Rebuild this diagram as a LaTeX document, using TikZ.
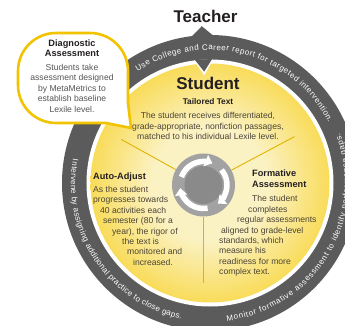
\documentclass[tikz,border=0pt]{standalone}
\usepackage{fontspec}
\setmainfont{Liberation Sans}
\usetikzlibrary{positioning,arrows.meta,decorations.text}
\definecolor{ringgray}{HTML}{5B5B5B}
\definecolor{yolk}{HTML}{F7C900}
\definecolor{yolkpale}{HTML}{FBF2C4}
\definecolor{rim}{HTML}{F2C300}
\definecolor{ink}{HTML}{231F20}
\definecolor{bodyink}{HTML}{4A4436}
\definecolor{bubbleink}{HTML}{555555}
\definecolor{hubout}{HTML}{A2A2A2}
\definecolor{hubin}{HTML}{8A8A8A}
\definecolor{splitline}{HTML}{E0B400}
\newcommand\ringfont{\fontsize{8}{9}\selectfont}
\pgfdeclareradialshading{yolkglow}{\pgfpoint{0bp}{0bp}}{color(0bp)=(yolkpale); color(12bp)=(yolkpale); color(36bp)=(yolk); color(50bp)=(yolk)}
\tikzset{
	>={Triangle[width=12pt,length=7pt]}
}

\begin{document}
\begin{tikzpicture}[
x = 1pt, y = 1pt,
every node/.style = {
	inner sep = 0pt,
	text = bodyink,
	font = \fontsize{8.6}{10.4}\selectfont
},
head/.style = {
	text = ink,
	font = \fontsize{17}{20}\selectfont\bfseries
},
heading/.style = {
	text = ink,
	align = left,
	font = \fontsize{9.2}{11}\selectfont\bfseries
},
para/.style = {
	align = left
},
ringtext/.style = {
	decorate,
	decoration = {text along path, text = {|\ringfont|#1}, text color = white, text align = fit to path}
},
divider/.style = {
	draw = splitline, line width = 0.9pt
},
swirl/.style = {
	draw = white, line width = 5.5pt, ->
},
bubble/.style = {
	fill = white, draw = rim, line width = 2.6pt
}
]

% frame
\useasboundingbox (-210,-143) rectangle (135,183);
\clip (-210,-143) rectangle (135,183);

% teacher ring
\fill[ringgray] (0,0) circle (148);
\fill[white] (0,0) circle (123.5);
\fill[ringgray] (88:146) -- (93:157) -- (98:146) -- cycle;

% student disc
\shade[shading=yolkglow] (0,0) circle (119.5);
\fill[white] (88.5:123.5) -- (93:108) -- (97.5:123.5) -- cycle;
\fill[ringgray] (89:124) -- (93:111.5) -- (97:124) -- cycle;

% hub with cycle arrows
\node[circle, fill=hubout, minimum size=63pt] (hub) at (-6.5,-2) {};
\fill[hubin] (hub.center) circle (19);
\draw[swirl] ([shift={(160:23.5)}]hub.center) arc[start angle=160, end angle=68, radius=23.5];
\draw[swirl] ([shift={(40:23.5)}]hub.center) arc[start angle=40, end angle=-52, radius=23.5];
\draw[swirl] ([shift={(-80:23.5)}]hub.center) arc[start angle=-80, end angle=-172, radius=23.5];

\path (hub.center) ++(151:94) coordinate (splitL);
\path (hub.center) ++(28:103) coordinate (splitR);
\path (hub.center) ++(270:98) coordinate (splitB);
\draw[divider] (hub.151) -- (splitL);
\draw[divider] (hub.28) -- (splitR);
\draw[divider] (hub.270) -- (splitB);

% ring texts
\path[ringtext={Use College and Career report for targeted intervention.}] (123:133) arc[start angle=123, end angle=27, radius=133];
\path[ringtext={Intervene by assigning additional practice to close gaps.}] (170:139) arc[start angle=170, end angle=258, radius=139];
\path[ringtext={Monitor formative assessment to identify performance gaps.}] (-83:139) arc[start angle=-83, end angle=21, radius=139];

% diagnostic bubble
\draw[bubble] (-154,150) -- (-120,150) arc[start angle=90, end angle=0, radius=38] -- (-82,80) -- (-79,55) -- (-104,60) -- (-154,60) arc[start angle=270, end angle=180, radius=38] -- (-192,112) arc[start angle=180, end angle=90, radius=38] -- cycle;

\node[head, anchor=base] (teacher) at (-4.5,160) {Teacher};
\node[head, anchor=base] (student) at (-2,93) {Student};
\node[heading, font=\fontsize{8.3}{10}\selectfont\bfseries, below=8pt of student] (tailored) {Tailored Text};
\node[para, align=center, below=7.7pt of tailored] (tailoredbody) {The student receives differentiated,\\grade-appropriate, nonfiction passages,\\matched to his individual Lexile level.};

\node[heading, align=center, font=\fontsize{9.2}{10.5}\selectfont\bfseries, anchor=north] (diag) at (-138,143.4) {Diagnostic\\Assessment};
\node[para, align=center, text=bubbleink, font=\fontsize{8.6}{10.5}\selectfont, below=6.4pt of diag] (diagbody) {Students take\\assessment designed\\by MetaMetrics to\\establish baseline\\Lexile level.};

\node[heading, anchor=north west] (adjust) at (-117,10.4) {Auto-Adjust};
\node[para, below=4.5pt of adjust.south west, anchor=north west] (adjustbody) {As the student\\progresses towards\\\hspace*{7pt}40 activities each\\\hspace*{10pt}semester (80 for a\\\hspace*{19pt}year), the rigor of\\\hspace*{29pt}the text is\\\hspace*{34pt}monitored and\\\hspace*{40pt}increased.};

\node[heading, anchor=north west] (formative) at (42,13.4) {Formative\\Assessment};
\node[para, below=7.7pt of formative.south west, anchor=north west, xshift=-33pt] (formbody) {\hspace*{33pt}The student\\\hspace*{29pt}completes\\\hspace*{18pt}regular assessments\\\hspace*{2pt}aligned to grade-level\\standards, which\\measure his\\readiness for more\\complex text.};
\end{tikzpicture}
\end{document}
